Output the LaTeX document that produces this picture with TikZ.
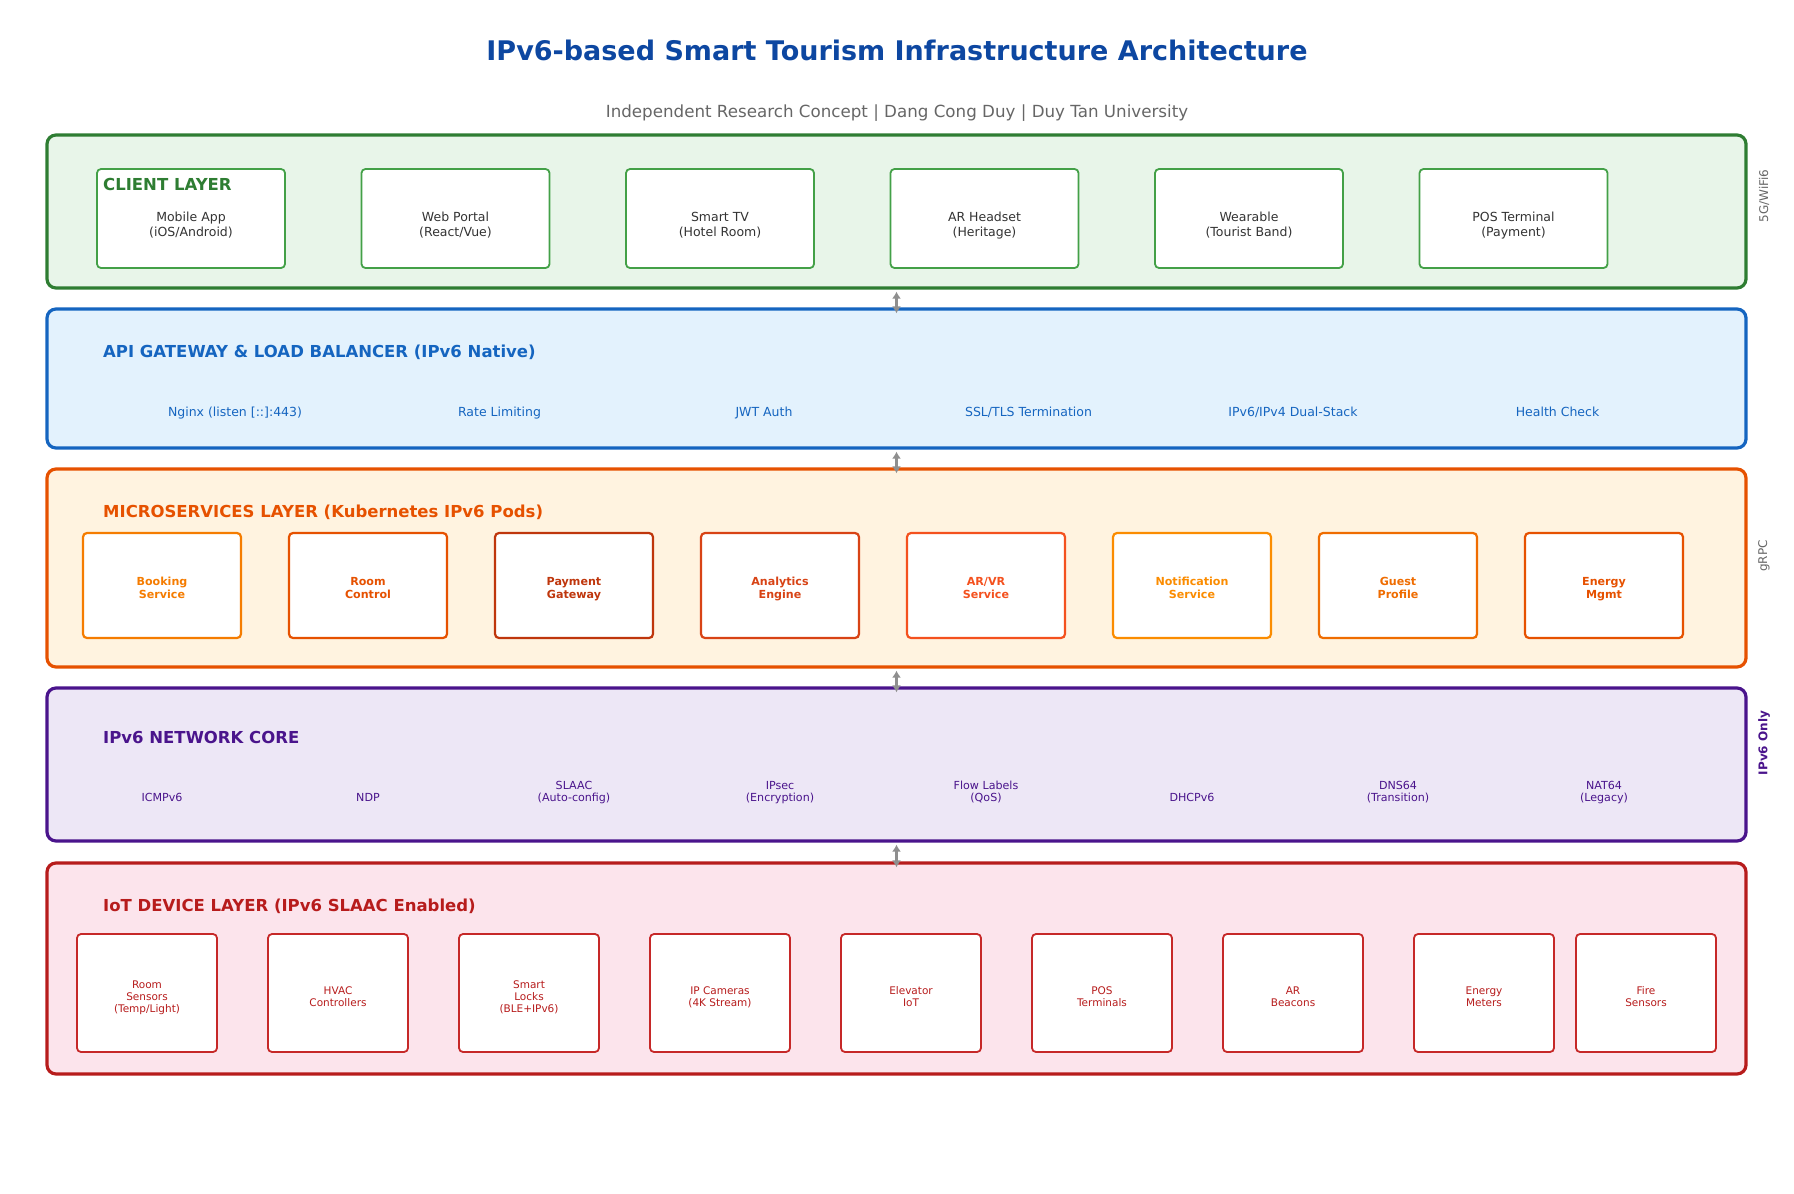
\documentclass[tikz,border=0pt]{standalone}
\usepackage{fontspec}
\setmainfont{DejaVu Sans}
\usetikzlibrary{arrows.meta}
\usetikzlibrary{positioning}

\definecolor{titleblue}{HTML}{0D47A1}
\definecolor{subgray}{HTML}{666666}
\definecolor{linkgray}{HTML}{8F8F8F}
\definecolor{clientline}{HTML}{2E7D32}
\definecolor{clientfill}{HTML}{E8F5E9}
\definecolor{clientbox}{HTML}{43A047}
\definecolor{clientink}{HTML}{333333}
\definecolor{apiline}{HTML}{1565C0}
\definecolor{apifill}{HTML}{E3F2FD}
\definecolor{msline}{HTML}{E65100}
\definecolor{msfill}{HTML}{FFF3E0}
\definecolor{netline}{HTML}{4A148C}
\definecolor{netfill}{HTML}{EDE7F6}
\definecolor{iotline}{HTML}{B71C1C}
\definecolor{iotfill}{HTML}{FCE4EC}
\definecolor{iotbox}{HTML}{C62828}
\definecolor{bookingc}{HTML}{F57C00}
\definecolor{roomc}{HTML}{E65100}
\definecolor{paymentc}{HTML}{BF360C}
\definecolor{analyticsc}{HTML}{D84315}
\definecolor{arvrc}{HTML}{F4511E}
\definecolor{notifyc}{HTML}{FB8C00}
\definecolor{guestc}{HTML}{EF6C00}
\definecolor{energyc}{HTML}{E65100}

\begin{document}
\begin{tikzpicture}[x=1pt, y=-1pt,
  layer/.style={draw=#1, line width=3.2pt, rounded corners=9pt,
    minimum width=1699pt, inner sep=0pt},
  layertitle/.style={anchor=base west, inner sep=0pt, text=#1,
    font=\fontsize{16.5}{20}\selectfont\bfseries},
  clientdev/.style={draw=clientbox, fill=white, line width=1.8pt, rounded corners=4pt,
    minimum width=188pt, minimum height=99pt, align=center, text=clientink,
    text height=38pt, text depth=3pt, font=\fontsize{12.5}{14.5}\selectfont},
  gwitem/.style={anchor=base, inner sep=0pt, text=apiline,
    font=\fontsize{12.5}{15}\selectfont},
  pod/.style={draw=#1, fill=white, line width=2.2pt, rounded corners=4pt,
    minimum width=158pt, minimum height=105pt, align=center, text=#1,
    text height=28pt, text depth=3pt, font=\fontsize{11.1}{12.3}\selectfont\bfseries},
  proto/.style={anchor=south, inner sep=0pt, text depth=0pt, align=center, text=netline,
    font=\fontsize{11.1}{12.2}\selectfont},
  device/.style={draw=iotbox, fill=white, line width=1.8pt, rounded corners=4pt,
    minimum width=140pt, minimum height=118pt, align=center, text=iotline,
    text height=29pt, text depth=3pt, font=\fontsize{10.5}{11.6}\selectfont},
  sidenote/.style={rotate=90, text=subgray, font=\fontsize{12}{14}\selectfont},
  link/.style={draw=linkgray, line width=2.4pt, {Latex[length=7pt,width=9pt]}-{Latex[length=7pt,width=9pt]}}]

  \useasboundingbox (0,0) rectangle (1794,1194);

  \node[text=titleblue, font=\fontsize{27}{32}\selectfont\bfseries] (title) at (897,50)
    {IPv6-based Smart Tourism Infrastructure Architecture};
  \node[text=subgray, font=\fontsize{16.7}{20}\selectfont] (subtitle) at (897,113)
    {Independent Research Concept | Dang Cong Duy | Duy Tan University};

  \node[layer=clientline, fill=clientfill, minimum height=153pt] (client) at (896.5,211.5) {};
  \node[layer=apiline, fill=apifill, minimum height=139pt] (api) at (896.5,378.5) {};
  \node[layer=msline, fill=msfill, minimum height=198pt] (micro) at (896.5,568) {};
  \node[layer=netline, fill=netfill, minimum height=153pt] (core) at (896.5,764.5) {};
  \node[layer=iotline, fill=iotfill, minimum height=211pt] (iot) at (896.5,968.5) {};

  \node[clientdev] (mobile) at (191,218.5) {Mobile App\\(iOS/Android)};
  \node[clientdev] (webportal) at (455.5,218.5) {Web Portal\\(React/Vue)};
  \node[clientdev] (smarttv) at (720,218.5) {Smart TV\\(Hotel Room)};
  \node[clientdev] (arheadset) at (984.5,218.5) {AR Headset\\(Heritage)};
  \node[clientdev] (wearable) at (1249,218.5) {Wearable\\(Tourist Band)};
  \node[clientdev] (posterm) at (1513.5,218.5) {POS Terminal\\(Payment)};
  \node[layertitle=clientline] (clienttitle) at (103,190) {CLIENT LAYER};
  \node[sidenote] (wireless) at (1764,196) {5G/WiFi6};

  \node[layertitle=apiline] (apititle) at (103,357) {API GATEWAY \& LOAD BALANCER (IPv6 Native)};
  \node[gwitem] (nginx) at (235,416) {Nginx (listen [::]:443)};
  \node[gwitem] (ratelimit) at (499.5,416) {Rate Limiting};
  \node[gwitem] (jwt) at (764,416) {JWT Auth};
  \node[gwitem] (ssltls) at (1028.5,416) {SSL/TLS Termination};
  \node[gwitem] (dualstack) at (1293,416) {IPv6/IPv4 Dual-Stack};
  \node[gwitem] (health) at (1557.5,416) {Health Check};

  \node[layertitle=msline] (microtitle) at (103,517) {MICROSERVICES LAYER (Kubernetes IPv6 Pods)};
  \node[pod=bookingc] (booking) at (162,585.5) {Booking\\Service};
  \node[pod=roomc] (roomctl) at (368,585.5) {Room\\Control};
  \node[pod=paymentc] (payment) at (574,585.5) {Payment\\Gateway};
  \node[pod=analyticsc] (analytics) at (780,585.5) {Analytics\\Engine};
  \node[pod=arvrc] (arvr) at (986,585.5) {AR/VR\\Service};
  \node[pod=notifyc] (notify) at (1192,585.5) {Notification\\Service};
  \node[pod=guestc] (guest) at (1398,585.5) {Guest\\Profile};
  \node[pod=energyc] (energy) at (1604,585.5) {Energy\\Mgmt};
  \node[sidenote] (grpc) at (1764,556) {gRPC};

  \node[layertitle=netline] (coretitle) at (103,743) {IPv6 NETWORK CORE};
  \node[proto] (icmp) at (162,801.5) {ICMPv6};
  \node[proto] (ndp) at (368,801.5) {NDP};
  \node[proto] (slaac) at (574,801.5) {SLAAC\\(Auto-config)};
  \node[proto] (ipsec) at (780,801.5) {IPsec\\(Encryption)};
  \node[proto] (flowlabel) at (986,801.5) {Flow Labels\\(QoS)};
  \node[proto] (dhcp) at (1192,801.5) {DHCPv6};
  \node[proto] (dnssix) at (1398,801.5) {DNS64\\(Transition)};
  \node[proto] (natsix) at (1604,801.5) {NAT64\\(Legacy)};
  \node[sidenote, text=netline, font=\fontsize{12}{14}\selectfont\bfseries] (v6only) at (1764,743) {IPv6 Only};

  \node[layertitle=iotline] (iottitle) at (103,911) {IoT DEVICE LAYER (IPv6 SLAAC Enabled)};
  \node[device, text height=41pt] (roomsensor) at (147,993) {Room\\Sensors\\(Temp/Light)};
  \node[device] (hvac) at (338,993) {HVAC\\Controllers};
  \node[device, text height=41pt] (locks) at (529,993) {Smart\\Locks\\(BLE+IPv6)};
  \node[device] (cameras) at (720,993) {IP Cameras\\(4K Stream)};
  \node[device] (elevator) at (911,993) {Elevator\\IoT};
  \node[device] (posdev) at (1102,993) {POS\\Terminals};
  \node[device] (beacons) at (1293,993) {AR\\Beacons};
  \node[device] (meters) at (1484,993) {Energy\\Meters};
  \node[device] (fire) at (1646,993) {Fire\\Sensors};

  \draw[link] ([yshift=-2pt]client.south) -- ([yshift=-6pt]api.north);
  \draw[link] ([yshift=-2pt]api.south) -- ([yshift=-6pt]micro.north);
  \draw[link] ([yshift=-2pt]micro.south) -- ([yshift=-6pt]core.north);
  \draw[link] ([yshift=-2pt]core.south) -- ([yshift=-6pt]iot.north);
\end{tikzpicture}
\end{document}
